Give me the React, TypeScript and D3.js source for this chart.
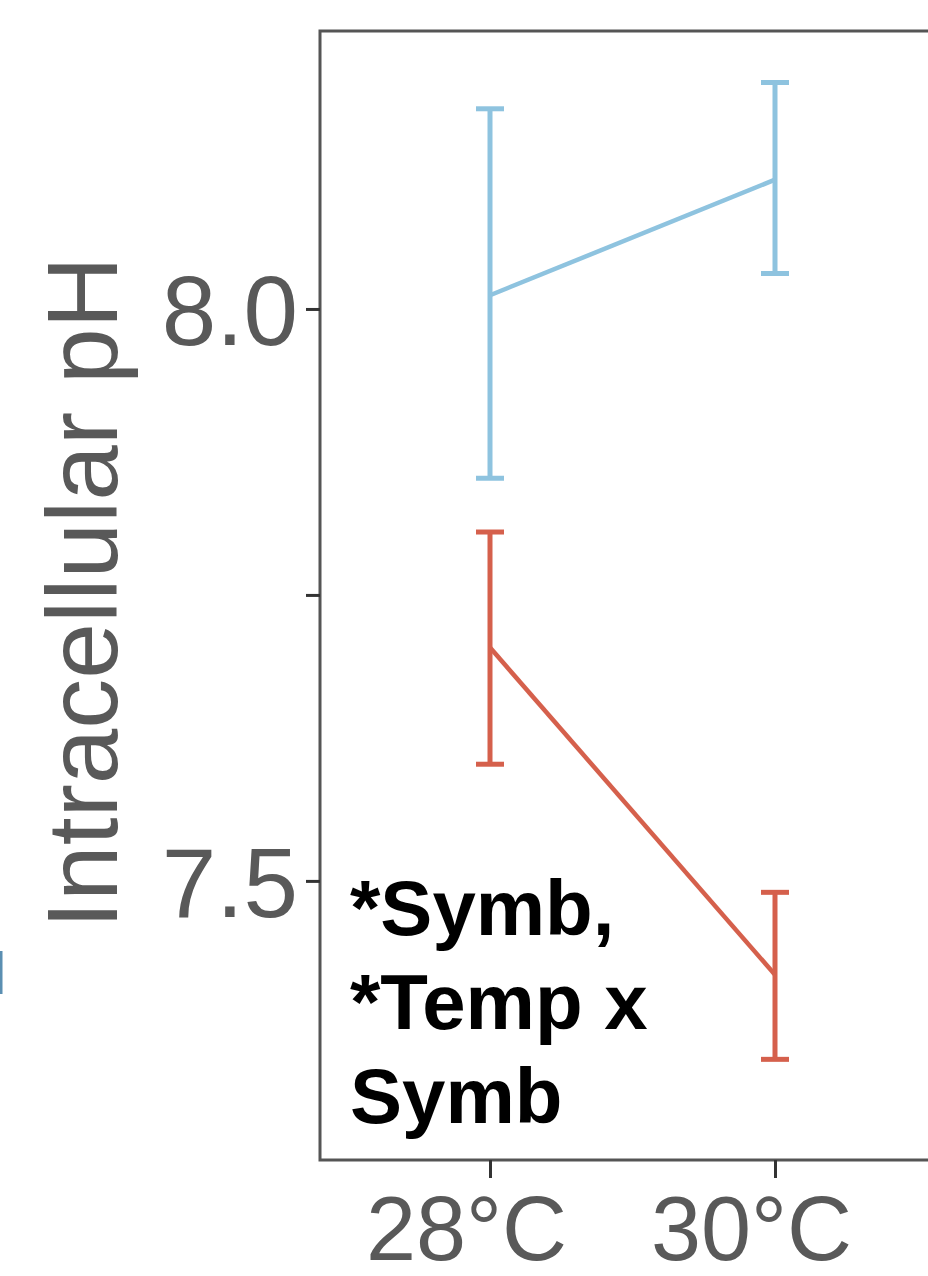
import React, { useEffect, useRef } from 'react';
import * as d3 from 'd3';

// temperatures on the x axis
const temps = ['28°C', '30°C'];

// symbiotic state series (blue) : mean, upper, lower
const blueMean = [8.012, 8.113];
const blueHigh = [8.175, 8.198];
const blueLow = [7.852, 8.031];

// red series
const redMean = [7.704, 7.418];
const redHigh = [7.805, 7.490];
const redLow = [7.602, 7.344];

const yTicks = [7.5, 7.75, 8.0];
const yTickLabels = ['7.5', '', '8.0'];

const annotation = ['*Symb,', '*Temp x', 'Symb'];

const W = 928;
const H = 1276;

function App() {
  const ref = useRef<SVGSVGElement>(null);

  useEffect(() => {
    document.body.style.margin = '0';
    const svg = d3.select(ref.current);
    svg.selectAll('*').remove();

    const left = 320, top = 31, bottom = 1160, right = 1180;
    const grey = '#595959';
    const font = 'Liberation Sans, Arial, sans-serif';

    const x = d3.scalePoint<string>().domain(temps).range([490, 775]);
    const y = d3.scaleLinear().domain([7.256, 8.243]).range([bottom, top]);

    // panel border
    svg.append('rect')
      .attr('x', left).attr('y', top)
      .attr('width', right - left).attr('height', bottom - top)
      .attr('fill', 'none').attr('stroke', '#555').attr('stroke-width', 3);

    // y axis
    const yAxis = svg.append('g')
      .attr('transform', `translate(${left},0)`)
      .call(d3.axisLeft(y).tickValues(yTicks).tickSize(14).tickPadding(8)
        .tickFormat((d, i) => yTickLabels[i]));
    yAxis.select('.domain').remove();
    yAxis.selectAll('.tick line').attr('stroke', '#333').attr('stroke-width', 3);
    yAxis.selectAll('.tick text')
      .attr('fill', grey).attr('font-size', 98).attr('font-family', font)
      .attr('dy', '0.36em');

    // x axis
    const xAxis = svg.append('g')
      .attr('transform', `translate(0,${bottom})`)
      .call(d3.axisBottom(x).tickSize(18).tickPadding(14));
    xAxis.select('.domain').remove();
    xAxis.selectAll('.tick line').attr('stroke', '#333').attr('stroke-width', 3);
    xAxis.selectAll('.tick text')
      .attr('fill', grey).attr('font-size', 90).attr('font-family', font)
      .attr('dx', -24).attr('dy', '0.76em');

    // y label
    svg.append('text')
      .attr('transform', `translate(117,${(top + bottom) / 2 - 3}) rotate(-90)`)
      .attr('text-anchor', 'middle')
      .attr('fill', grey).attr('font-size', 100).attr('font-family', font)
      .text('Intracellular pH');

    const series = [
      { mean: blueMean, hi: blueHigh, lo: blueLow, color: '#8ec3df' },
      { mean: redMean, hi: redHigh, lo: redLow, color: '#d5604c' },
    ];

    const line = d3.line<number>()
      .x((_, i) => x(temps[i]) as number)
      .y(d => y(d));

    series.forEach(s => {
      const g = svg.append('g');
      g.append('path')
        .attr('d', line(s.mean))
        .attr('fill', 'none').attr('stroke', s.color).attr('stroke-width', 4.5);
      temps.forEach((t, i) => {
        const cx = x(t) as number;
        g.append('line')
          .attr('x1', cx).attr('x2', cx)
          .attr('y1', y(s.hi[i])).attr('y2', y(s.lo[i]))
          .attr('stroke', s.color).attr('stroke-width', 5);
        [s.hi[i], s.lo[i]].forEach(v => {
          g.append('line')
            .attr('x1', cx - 14).attr('x2', cx + 14)
            .attr('y1', y(v)).attr('y2', y(v))
            .attr('stroke', s.color).attr('stroke-width', 5);
        });
      });
    });

    // annotation
    const ann = svg.append('text')
      .attr('x', 350).attr('y', 935)
      .attr('font-family', font).attr('font-weight', 'bold')
      .attr('font-size', 78).attr('fill', '#000');
    annotation.forEach((t, i) => {
      ann.append('tspan').attr('x', 350).attr('dy', i === 0 ? 0 : 94).text(t);
    });

    // sliver of neighbouring panel at the left edge
    svg.append('rect')
      .attr('x', 0).attr('y', 951).attr('width', 2.5).attr('height', 43)
      .attr('fill', '#5b8fb2');
  }, []);

  return (
    <svg ref={ref} width={W} height={H} style={{ display: 'block', background: '#fff' }} />
  );
}

export default App;
